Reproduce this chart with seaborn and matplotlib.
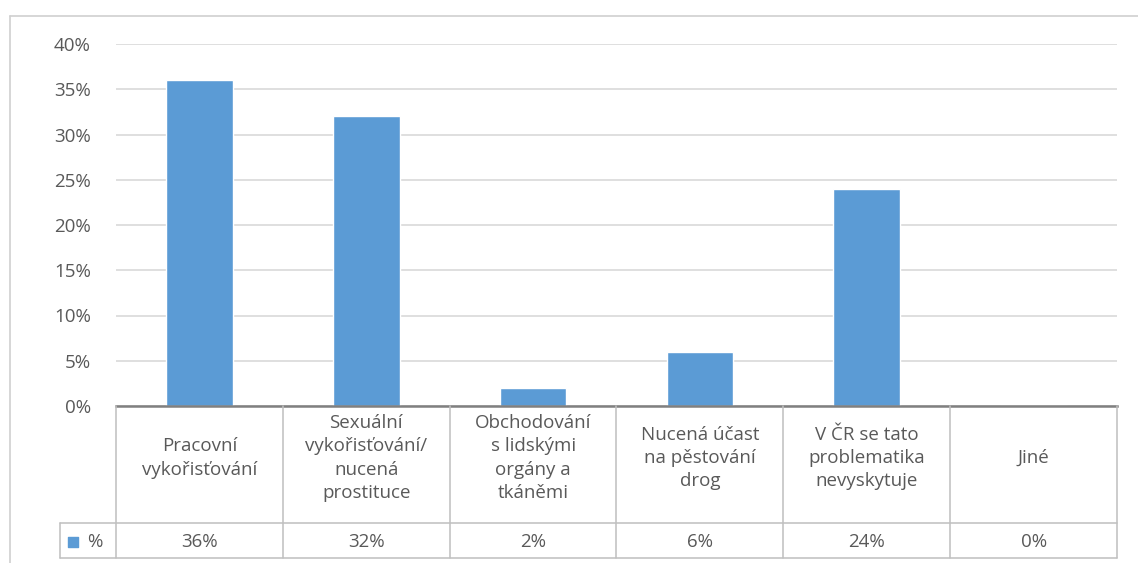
import numpy as np
import pandas as pd
import matplotlib
matplotlib.use("Agg")
import matplotlib.pyplot as plt
import seaborn as sns
from matplotlib.lines import Line2D

# data
categories = ["Pracovní\nvykořisťování",
              "Sexuální\nvykořisťování/\nnucená\nprostituce",
              "Obchodování\ns lidskými\norgány a\ntkáněmi",
              "Nucená účast\nna pěstování\ndrog",
              "V ČR se tato\nproblematika\nnevyskytuje",
              "Jiné"]
values = [0.36, 0.32, 0.02, 0.06, 0.24, 0.0]
value_labels = ["36%", "32%", "2%", "6%", "24%", "0%"]
yticks = [0, 0.05, 0.10, 0.15, 0.20, 0.25, 0.30, 0.35, 0.40]
series_name = "%"

sns.set_style("white")
plt.rcParams["font.family"] = ["Open Sans", "DejaVu Sans"]

W, H = 1138, 563
blue = "#5B9BD5"
txt = "#595959"
grid = "#D9D9D9"
cell = "#BFBFBF"
fs = 13.5

fig = plt.figure(figsize=(W / 100, H / 100), dpi=100)

# main plot area (pixel box 116..1117 x 44..406)
ax = fig.add_axes([116 / W, (H - 406) / H, 1001 / W, 362 / H])
df = pd.DataFrame({"kat": categories, "val": values})
sns.barplot(data=df, x="kat", y="val", color=blue, width=0.4, saturation=1, ax=ax)
ax.set_xlim(-0.5, len(categories) - 0.5)
ax.set_ylim(0, 0.40)
ax.set_yticks(yticks)
ax.set_yticklabels([f"{int(round(t * 100))}%" for t in yticks], color=txt, fontsize=fs)
ax.tick_params(axis="y", length=0, pad=18)
ax.set_xticks([])
ax.set_xlabel("")
ax.set_ylabel("")
ax.yaxis.grid(True, color=grid, linewidth=1.2)
ax.set_axisbelow(True)
for s in ["left", "top", "right"]:
    ax.spines[s].set_visible(False)
ax.spines["bottom"].set_color("#808080")
ax.spines["bottom"].set_linewidth(1.8)
ax.spines["bottom"].set_zorder(5)

# data table below (pixel box 116..1117 x 406..558), y in pixels from bottom
tab = fig.add_axes([116 / W, (H - 558) / H, 1001 / W, 152 / H])
tab.set_xlim(-0.5, len(categories) - 0.5)
tab.set_ylim(0, 152)
tab.axis("off")
unit = 1001 / len(categories)
leg_left = -0.5 - 56 / unit

for i in range(len(categories) + 1):
    tab.plot([i - 0.5, i - 0.5], [0, 152], color=cell, lw=1.1, clip_on=False)
tab.plot([leg_left, len(categories) - 0.5], [35, 35], color=cell, lw=1.1, clip_on=False)
tab.plot([leg_left, len(categories) - 0.5], [0, 0], color=cell, lw=1.1, clip_on=False)
tab.plot([leg_left, leg_left], [0, 35], color=cell, lw=1.1, clip_on=False)

for i, (c, v) in enumerate(zip(categories, value_labels)):
    tab.text(i, 100, c, ha="center", va="center", color=txt, fontsize=fs,
             linespacing=1.38)
    tab.text(i, 16, v, ha="center", va="center", color=txt, fontsize=fs)

# legend key in the value row
tab.scatter([leg_left + 13 / unit], [16], marker="s", s=60, color=blue, clip_on=False)
tab.text(leg_left + 27 / unit, 16, series_name, ha="left", va="center", color=txt,
         fontsize=fs)

# chart area border
fig.add_artist(Line2D([10 / W, 10 / W], [0, 1 - 16 / H], color="#D0D0D0", lw=1.2))
fig.add_artist(Line2D([10 / W, 1], [1 - 16 / H, 1 - 16 / H], color="#D0D0D0", lw=1.2))

fig.savefig("out.png", dpi=100)
